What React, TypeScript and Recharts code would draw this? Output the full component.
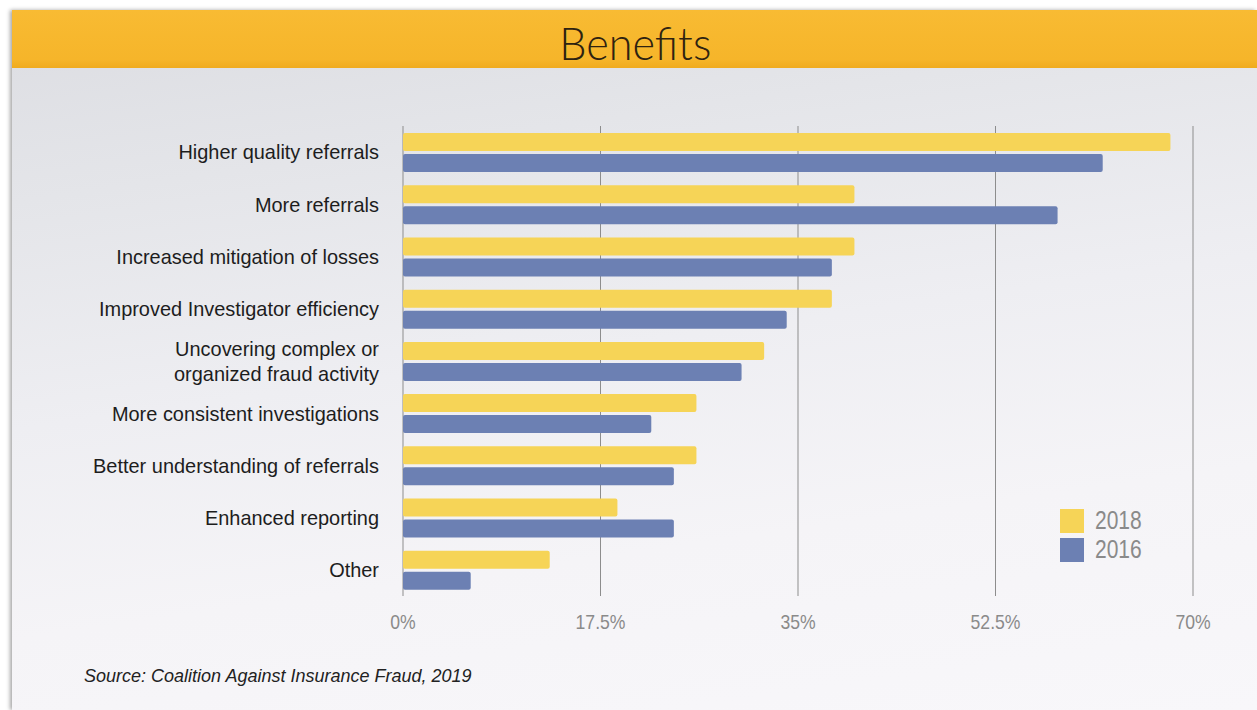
import React from "react"
import { Bar, BarChart, CartesianGrid, XAxis, YAxis } from "recharts"

const categories = [
  "Higher quality referrals",
  "More referrals",
  "Increased mitigation of losses",
  "Improved Investigator efficiency",
  "Uncovering complex or\norganized fraud activity",
  "More consistent investigations",
  "Better understanding of referrals",
  "Enhanced reporting",
  "Other",
]
const values2018 = [68, 40, 40, 38, 32, 26, 26, 19, 13]
const values2016 = [62, 58, 38, 34, 30, 22, 24, 24, 6]
const xTicks = [0, 17.5, 35, 52.5, 70]
const seriesNames = ["2018", "2016"]
const seriesColors = ["#F6D457", "#6C80B3"]

const data = categories.map((name, i) => ({
  name,
  y2018: values2018[i],
  y2016: values2016[i],
}))

const SANS = "'Liberation Sans', Arial, sans-serif"

// condensed look: the original uses a narrow face
function CategoryTick(props: any) {
  const { x, y, payload } = props
  const lines = String(payload.value).split("\n")
  const lh = 25
  const start = -((lines.length - 1) * lh) / 2
  return (
    <g transform={`translate(${x - 16},${y}) scale(0.95,1)`}>
      <text textAnchor="end" fontFamily={SANS} fontSize={21} fill="#1d1d1d">
        {lines.map((l, i) => (
          <tspan key={i} x={0} y={start + i * lh} dy="0.35em">
            {l}
          </tspan>
        ))}
      </text>
    </g>
  )
}

function PercentTick(props: any) {
  const { x, y, payload } = props
  return (
    <g transform={`translate(${x},${y}) scale(0.88,1)`}>
      <text textAnchor="middle" y={15} fontFamily={SANS} fontSize={20} fill="#8a8a8a">
        {`${payload.value}%`}
      </text>
    </g>
  )
}

export default function App() {
  return (
    <div style={{ position: "absolute", left: 0, top: 0, width: 1257, height: 710, background: "#fff", overflow: "hidden" }}>
      <div
        style={{
          position: "absolute",
          left: 12,
          top: 10,
          width: 1245,
          height: 700,
          background: "linear-gradient(172deg, #dcdde2 0%, #e4e5e9 22%, #eeeef2 48%, #f5f4f7 72%, #f8f7fa 100%)",
          boxShadow: "-2px 0 4px rgba(0,0,0,0.35)",
        }}
      />
      <div
        style={{
          position: "absolute",
          left: 12,
          top: 10,
          width: 1245,
          height: 58,
          background: "linear-gradient(#f8bb33, #f6b52a 85%, #f0ab1e)",
          textAlign: "center",
        }}
      >
        <span
          style={{
            display: "inline-block",
            marginTop: 8,
            marginLeft: 2,
            fontFamily: "Lato, 'Open Sans', sans-serif",
            fontWeight: 300,
            fontSize: 45,
            lineHeight: "50px",
            color: "#2e2210",
            transform: "scaleX(0.96)",
          }}
        >
          Benefits
        </span>
      </div>
      <div style={{ position: "absolute", left: 0, top: 0 }}>
        <BarChart
          width={1257}
          height={710}
          data={data}
          layout="vertical"
          margin={{ top: 126, right: 64, bottom: 84, left: 0 }}
          barSize={18}
          barGap={3}
        >
          <CartesianGrid horizontal={false} stroke="#8d8d8d" strokeWidth={1} />
          <XAxis
            type="number"
            domain={[0, 70]}
            ticks={xTicks}
            axisLine={false}
            tickLine={false}
            tickSize={0}
            tickMargin={18}
            height={30}
            tick={<PercentTick />}
            interval={0}
          />
          <YAxis
            dataKey="name"
            type="category"
            width={403}
            axisLine={false}
            tickLine={false}
            tick={<CategoryTick />}
            interval={0}
          />
          <Bar dataKey="y2018" name={seriesNames[0]} fill={seriesColors[0]} radius={2} isAnimationActive={false} />
          <Bar dataKey="y2016" name={seriesNames[1]} fill={seriesColors[1]} radius={2} isAnimationActive={false} />
        </BarChart>
      </div>
      <div style={{ position: "absolute", left: 1060, top: 506 }}>
        {seriesNames.map((n, i) => (
          <div key={n} style={{ display: "flex", alignItems: "center", height: 29 }}>
            <div style={{ width: 24, height: 24, background: seriesColors[i] }} />
            <span
              style={{
                marginLeft: 11,
                fontFamily: SANS,
                fontSize: 25,
                color: "#8a8a8a",
                display: "inline-block",
                transform: "scaleX(0.84)",
                transformOrigin: "left center",
              }}
            >
              {n}
            </span>
          </div>
        ))}
      </div>
      <div
        style={{
          position: "absolute",
          left: 84,
          top: 666,
          fontFamily: SANS,
          fontStyle: "italic",
          fontSize: 18,
          color: "#222",
        }}
      >
        Source: Coalition Against Insurance Fraud, 2019
      </div>
    </div>
  )
}
